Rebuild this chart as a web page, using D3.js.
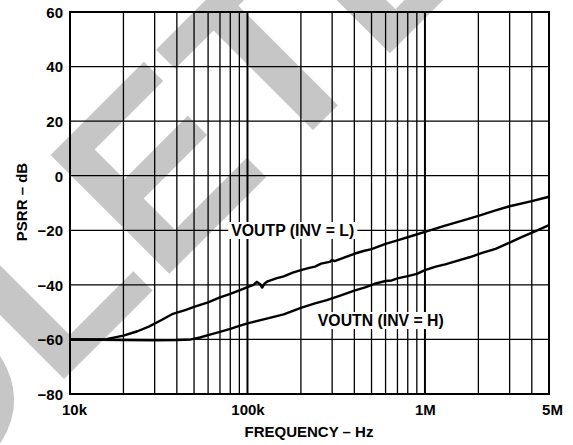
<!DOCTYPE html>
<html>
<head>
<meta charset="utf-8">
<script src="https://cdn.jsdelivr.net/npm/d3@7"></script>
<style>
  html, body { margin: 0; padding: 0; background: #fff; }
  svg { display: block; }
  text { font-family: "Liberation Sans", Arial, Helvetica, sans-serif; font-weight: bold; fill: #000; }
</style>
</head>
<body>
<svg id="chart" width="573" height="445"></svg>
<script>
// ---- data ----
const xTickValues = [1e4, 1e5, 1e6, 5e6];
const xTickLabels = ["10k", "100k", "1M", "5M"];
const yTickValues = [-80, -60, -40, -20, 0, 20, 40, 60];
const yTickLabels = ["\u221280", "\u221260", "\u221240", "\u221220", "0", "20", "40", "60"];

const voutpFreq = [1e4, 1.3e4, 1.6e4, 2.0e4, 2.4e4, 2.8e4, 3.3e4, 3.8e4, 4.5e4, 5.0e4, 6.0e4, 7.0e4, 8.0e4, 9.0e4,
  1.0e5, 1.08e5, 1.13e5, 1.18e5, 1.21e5, 1.25e5, 1.3e5, 1.45e5, 1.6e5, 1.8e5, 2.0e5, 2.2e5, 2.4e5, 2.6e5, 2.9e5,
  3.0e5, 3.1e5, 3.5e5, 4.0e5, 4.5e5, 5.0e5, 6.0e5, 7.0e5, 8.5e5, 1.0e6, 1.3e6, 1.7e6, 2.0e6, 2.5e6, 3.0e6, 4.0e6, 5.0e6];
const voutpDb = [-60.0, -60.0, -59.9, -58.6, -57.0, -55.2, -52.8, -50.6, -49.2, -48.1, -46.4, -44.6, -43.3, -42.0,
  -40.8, -40.0, -38.9, -39.8, -41.0, -39.5, -38.7, -37.6, -36.9, -35.5, -34.6, -33.9, -33.3, -32.2, -31.6,
  -30.9, -31.3, -30.0, -28.6, -27.6, -26.9, -25.0, -23.7, -22.0, -20.6, -18.3, -16.1, -14.7, -12.7, -11.2, -9.3, -7.7];

const voutnFreq = [1e4, 1.5e4, 2e4, 3e4, 4e4, 4.8e4, 5.4e4, 6e4, 7e4, 8e4, 9e4, 1e5, 1.3e5, 1.6e5, 2e5, 2.4e5, 2.8e5,
  3.3e5, 4.0e5, 4.6e5, 5.2e5, 6.0e5, 6.5e5, 7.0e5, 8.0e5, 9.0e5, 1.0e6, 1.15e6, 1.3e6, 1.5e6, 1.8e6, 2.1e6, 2.5e6,
  3.0e6, 3.5e6, 4.2e6, 5.0e6];
const voutnDb = [-60.0, -60.1, -60.2, -60.3, -60.2, -60.0, -59.3, -58.4, -57.2, -56.1, -55.0, -54.1, -52.3, -50.8, -48.4,
  -46.8, -45.6, -44.0, -42.1, -40.9, -39.6, -38.6, -38.4, -37.6, -36.8, -36.0, -34.6, -33.3, -32.5, -31.3, -29.8,
  -28.3, -26.8, -24.5, -22.5, -20.3, -18.1];

const seriesLabels = ["VOUTP (INV = L)", "VOUTN (INV = H)"];
const labelFreq = [1.8e5, 5.64e5];
const labelDb = [-20, -53];

const xTitle = "FREQUENCY \u2013 Hz";
const yTitle = "PSRR \u2013 dB";
const watermarkText = "OBSOLETE";

// ---- layout ----
const svg = d3.select("#chart");
const margin = { left: 70, right: 24, top: 12, bottom: 51 };
const W = 573, H = 445;
const x = d3.scaleLog().domain([1e4, 5e6]).range([margin.left, W - margin.right]);
const y = d3.scaleLinear().domain([-80, 60]).range([H - margin.bottom, margin.top]);

// watermark (behind everything)
const wm = svg.append("g").attr("transform", "translate(52.4,390.6) rotate(-45)");
const wmText = wm.append("text")
  .attr("x", 0).attr("y", 0)
  .style("font-size", "244px")
  .style("fill", "#c6c6c6")
  .text(watermarkText);
const lPos = wmText.node().getStartPositionOfChar(4).x;
wmText.attr("x", -lPos);

// grid: minor vertical lines
const minorTicks = [];
for (let d = 1e4; d <= 1e6; d *= 10) {
  for (let m = 1; m <= 9; m++) {
    const v = d * m;
    if (v <= 5e6) minorTicks.push(v);
  }
}
minorTicks.push(5e6);

svg.append("g").selectAll("line")
  .data(minorTicks)
  .join("line")
  .attr("x1", d => x(d)).attr("x2", d => x(d))
  .attr("y1", y(60)).attr("y2", y(-80))
  .attr("stroke", "#000")
  .attr("stroke-width", d => (d === 1e5 || d === 1e6) ? 2 : 1.3);

svg.append("g").selectAll("line")
  .data(yTickValues)
  .join("line")
  .attr("x1", x(1e4)).attr("x2", x(5e6))
  .attr("y1", d => y(d)).attr("y2", d => y(d))
  .attr("stroke", "#000")
  .attr("stroke-width", 1.3);

// border
svg.append("rect")
  .attr("x", x(1e4)).attr("y", y(60))
  .attr("width", x(5e6) - x(1e4)).attr("height", y(-80) - y(60))
  .attr("fill", "none").attr("stroke", "#000").attr("stroke-width", 2);

// axes tick labels via d3 axes (lines hidden)
const yAxis = svg.append("g")
  .attr("transform", `translate(${x(1e4)},0)`)
  .call(d3.axisLeft(y).tickValues(yTickValues).tickFormat((d, i) => yTickLabels[i]).tickSize(0).tickPadding(7));
yAxis.select(".domain").remove();
yAxis.selectAll("text").style("font-size", "15px").style("font-family", null).attr("dy", "0.36em");

const xAxis = svg.append("g")
  .attr("transform", `translate(0,${y(-80)})`)
  .call(d3.axisBottom(x).tickValues(xTickValues).tickFormat((d, i) => xTickLabels[i]).tickSize(0).tickPadding(10));
xAxis.select(".domain").remove();
xAxis.selectAll("text").style("font-size", "15px").style("font-family", null)
  .attr("dx", (d, i) => i === 0 ? "4" : (i === 3 ? "3" : "0"));

// axis titles
svg.append("text")
  .attr("x", 309).attr("y", 437)
  .attr("text-anchor", "middle")
  .style("font-size", "15px")
  .text(xTitle);

svg.append("text")
  .attr("transform", "translate(27,202) rotate(-90)")
  .attr("text-anchor", "middle")
  .style("font-size", "15px")
  .text(yTitle);

// curves
const line = d3.line().x(d => x(d[0])).y(d => y(d[1])).curve(d3.curveLinear);
const series = [
  d3.zip(voutpFreq, voutpDb),
  d3.zip(voutnFreq, voutnDb)
];
svg.append("g").selectAll("path")
  .data(series)
  .join("path")
  .attr("d", line)
  .attr("fill", "none")
  .attr("stroke", "#000")
  .attr("stroke-width", 2.4)
  .attr("stroke-linejoin", "round");

// series labels with white background
seriesLabels.forEach((lab, i) => {
  const g = svg.append("g");
  const t = g.append("text")
    .attr("x", x(labelFreq[i]))
    .attr("y", y(labelDb[i]))
    .attr("dy", "0.36em")
    .attr("text-anchor", "middle")
    .style("font-size", "15.8px")
    .text(lab);
  const bb = t.node().getBBox();
  g.insert("rect", "text")
    .attr("x", bb.x - 3).attr("y", bb.y)
    .attr("width", bb.width + 6).attr("height", bb.height)
    .attr("fill", "#fff");
});
</script>
</body>
</html>
